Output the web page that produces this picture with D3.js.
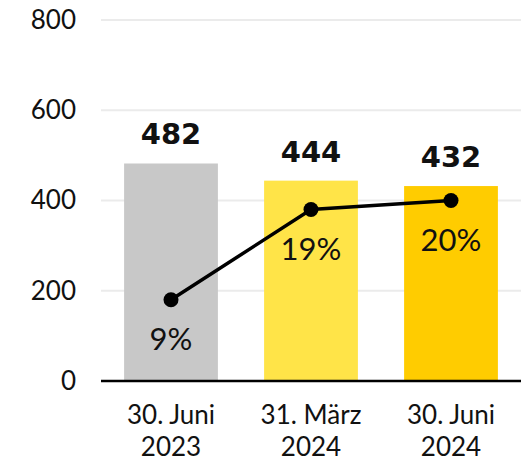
<!DOCTYPE html>
<html>
<head>
<meta charset="utf-8">
<script src="https://cdn.jsdelivr.net/npm/d3@7"></script>
<style>
  body { margin: 0; background: #fff; }
  text { font-family: Lato, "Open Sans", sans-serif; fill: #111; }
</style>
</head>
<body>
<svg id="chart" width="527" height="462"></svg>
<script>
// data
var categories = [["30. Juni", "2023"], ["31. März", "2024"], ["30. Juni", "2024"]];
var barValues = [482, 444, 432];
var shareValues = [9, 19, 20];
var barColors = ["#c8c8c8", "#ffe448", "#ffcc00"];
var yTicks = [0, 200, 400, 600, 800];

var margin = {top: 20, right: 6, bottom: 81, left: 101},
    width = 527 - margin.left - margin.right,
    height = 462 - margin.top - margin.bottom;

var svg = d3.select("#chart")
  .append("g")
    .attr("transform", "translate(" + margin.left + "," + margin.top + ")");

var x = d3.scaleBand()
    .domain(d3.range(categories.length))
    .range([0, width])
    .paddingInner(0.33)
    .paddingOuter(0.165);
var y = d3.scaleLinear().domain([0, 800]).range([height, 0]);
// share line uses its own scale (0-40%) over the same height
var y2 = d3.scaleLinear().domain([0, 40]).range([height, 0]);

// gridlines
svg.selectAll(".grid")
    .data(yTicks.filter(function(d) { return d > 0; }))
  .enter().append("line")
    .attr("x1", 0)
    .attr("x2", width)
    .attr("y1", function(d) { return y(d); })
    .attr("y2", function(d) { return y(d); })
    .attr("stroke", "#ebebeb")
    .attr("stroke-width", 2);

// y axis labels
var yAxis = d3.axisLeft(y).tickValues(yTicks).tickSize(0).tickPadding(25);
svg.append("g")
    .call(yAxis)
    .call(function(g) { g.select(".domain").remove(); })
    .selectAll("text")
    .style("font-size", "26px")
    .style("font-family", "Lato, sans-serif")
    .attr("fill", "#111");

// bars
svg.selectAll(".bar")
    .data(barValues)
  .enter().append("rect")
    .attr("class", "bar")
    .attr("x", function(d, i) { return x(i); })
    .attr("width", x.bandwidth())
    .attr("y", function(d) { return y(d); })
    .attr("height", function(d) { return height - y(d); })
    .attr("fill", function(d, i) { return barColors[i]; });

// bar value labels
svg.selectAll(".val")
    .data(barValues)
  .enter().append("text")
    .attr("x", function(d, i) { return x(i) + x.bandwidth() / 2; })
    .attr("y", function(d) { return y(d) - 19; })
    .attr("text-anchor", "middle")
    .style("font-family", "'DejaVu Sans', sans-serif")
    .style("font-size", "29px")
    .style("font-weight", "bold")
    .attr("fill", "#000")
    .text(function(d) { return d; });

// x axis baseline
svg.append("line")
    .attr("x1", 0)
    .attr("x2", width)
    .attr("y1", height)
    .attr("y2", height)
    .attr("stroke", "#000")
    .attr("stroke-width", 2.6);

// x labels
var xl = svg.selectAll(".xl")
    .data(categories)
  .enter().append("text")
    .attr("text-anchor", "middle")
    .attr("x", function(d, i) { return x(i) + x.bandwidth() / 2; })
    .attr("y", height + 43)
    .style("font-size", "26px");
xl.append("tspan")
    .attr("x", function(d, i) { return x(i) + x.bandwidth() / 2; })
    .text(function(d) { return d[0]; });
xl.append("tspan")
    .attr("x", function(d, i) { return x(i) + x.bandwidth() / 2; })
    .attr("dy", 32)
    .text(function(d) { return d[1]; });

// share line
var line = d3.line()
    .x(function(d, i) { return x(i) + x.bandwidth() / 2; })
    .y(function(d) { return y2(d); });

svg.append("path")
    .datum(shareValues)
    .attr("d", line)
    .attr("fill", "none")
    .attr("stroke", "#000")
    .attr("stroke-width", 3.5);

svg.selectAll(".pt")
    .data(shareValues)
  .enter().append("circle")
    .attr("cx", function(d, i) { return x(i) + x.bandwidth() / 2; })
    .attr("cy", function(d) { return y2(d); })
    .attr("r", 7.5)
    .attr("fill", "#000");

svg.selectAll(".pct")
    .data(shareValues)
  .enter().append("text")
    .attr("x", function(d, i) { return x(i) + x.bandwidth() / 2; })
    .attr("y", function(d) { return y2(d) + 50; })
    .attr("text-anchor", "middle")
    .style("font-size", "31px")
    .text(function(d) { return d + "%"; });
</script>
</body>
</html>
